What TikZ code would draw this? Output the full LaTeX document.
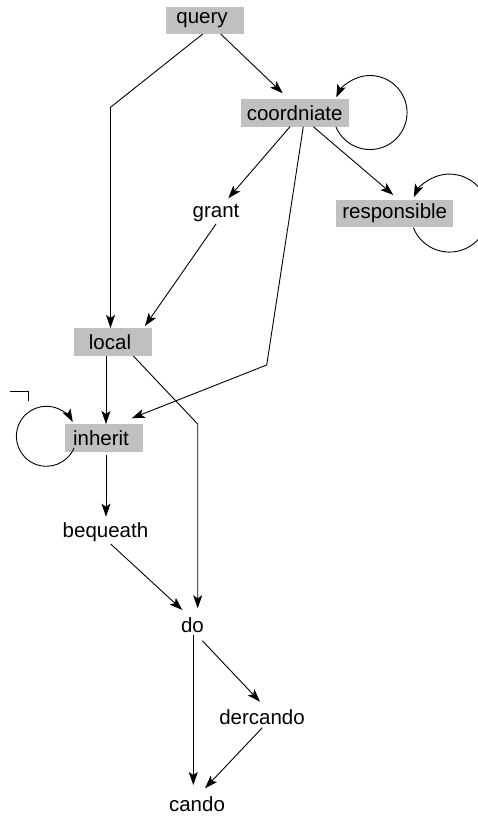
\documentclass[tikz,border=0pt]{standalone}
\usepackage{fontspec}
\setmainfont{Liberation Sans}
\usetikzlibrary{arrows.meta,calc}
\definecolor{boxgray}{RGB}{192,192,192}
\newcommand{\padr}{\hspace*{6pt}}
\tikzset{
  lbl/.style={inner sep=0pt, font=\fontsize{20.5}{24}\selectfont},
  graybox/.style={lbl, fill=boxgray, minimum width=78pt, minimum height=27.5pt, inner xsep=6pt},
  edge/.style={line width=0.9pt, -{Stealth[length=13pt,width=9pt,inset=3pt]}},
  plain/.style={line width=0.9pt}
}
\begin{document}
\begin{tikzpicture}[x=1pt,y=-1pt]
\useasboundingbox (0,0) rectangle (478,816);

% nodes
\node[graybox] (Q) at (205,20.5) {query\padr};
\node[graybox] (C) at (294.7,113) {coordniate};
\node[lbl]     (G) at (216,213) {grant};
\node[graybox] (R) at (394.7,213.5) {responsible};
\node[graybox] (L) at (113,342) {local\padr};
\node[graybox] (I) at (104,438) {inherit\padr};
\node[lbl]     (B) at (105.5,532) {bequeath};
\node[lbl]     (D) at (192.5,625) {do};
\node[lbl]     (E) at (262,717) {dercando};
\node[lbl]     (K) at (197,804) {cando};

% bends of the routed edges
\coordinate (qlbend) at (110.5,107.3);
\coordinate (cibend) at (266.7,365);
\coordinate (ldbend) at (197.7,424);

% edges
\draw[edge] ($(Q)+(15.7,13.5)$) -- ($(C)+(-12,-19.7)$);
\draw[edge] ($(Q)+(-2.3,13.5)$) -- (qlbend) -- ($(L)+(-2.5,-14)$);
\draw[edge] ($(C)+(41.3,14)$) arc[start angle=157, end angle=-156, radius=37];
\draw[edge] ($(C)+(-4.7,13.7)$) -- ($(G)+(12.3,-14.7)$);
\draw[edge] ($(C)+(18.6,13.7)$) -- ($(R)+(-1.4,-18.5)$);
\draw[edge] ($(C)+(8.6,13.7)$) -- (cibend) -- ($(I)+(27.7,-19.7)$);
\draw[edge] ($(R)+(18.6,14.2)$) arc[start angle=158, end angle=-156, radius=39];
\draw[edge] ($(G)+(0,11)$) -- ($(L)+(32,-16)$);
\draw[edge] ($(L)+(-7,14)$) -- ($(I)+(2,-14)$);
\draw[edge] ($(L)+(20.3,14)$) -- (ldbend) -- ($(D)+(5.2,-16.7)$);
\draw[edge] ($(I)+(-30,10)$) arc[start angle=23, end angle=331.5, radius=30];
\draw[plain] (10,391.7) -- (28.3,391.7) -- (28.3,401);
\draw[edge] ($(I)+(2,17)$) -- ($(B)+(0.5,-15.3)$);
\draw[edge] ($(B)+(5.2,12)$) -- ($(D)+(-10.2,-15)$);
\draw[edge] ($(D)+(0.8,10)$) -- ($(K)+(-3.7,-19)$);
\draw[edge] ($(D)+(9.8,15.7)$) -- ($(E)+(-2,-15.3)$);
\draw[edge] ($(E)+(0.3,10.7)$) -- ($(K)+(8,-15.7)$);
\end{tikzpicture}
\end{document}
